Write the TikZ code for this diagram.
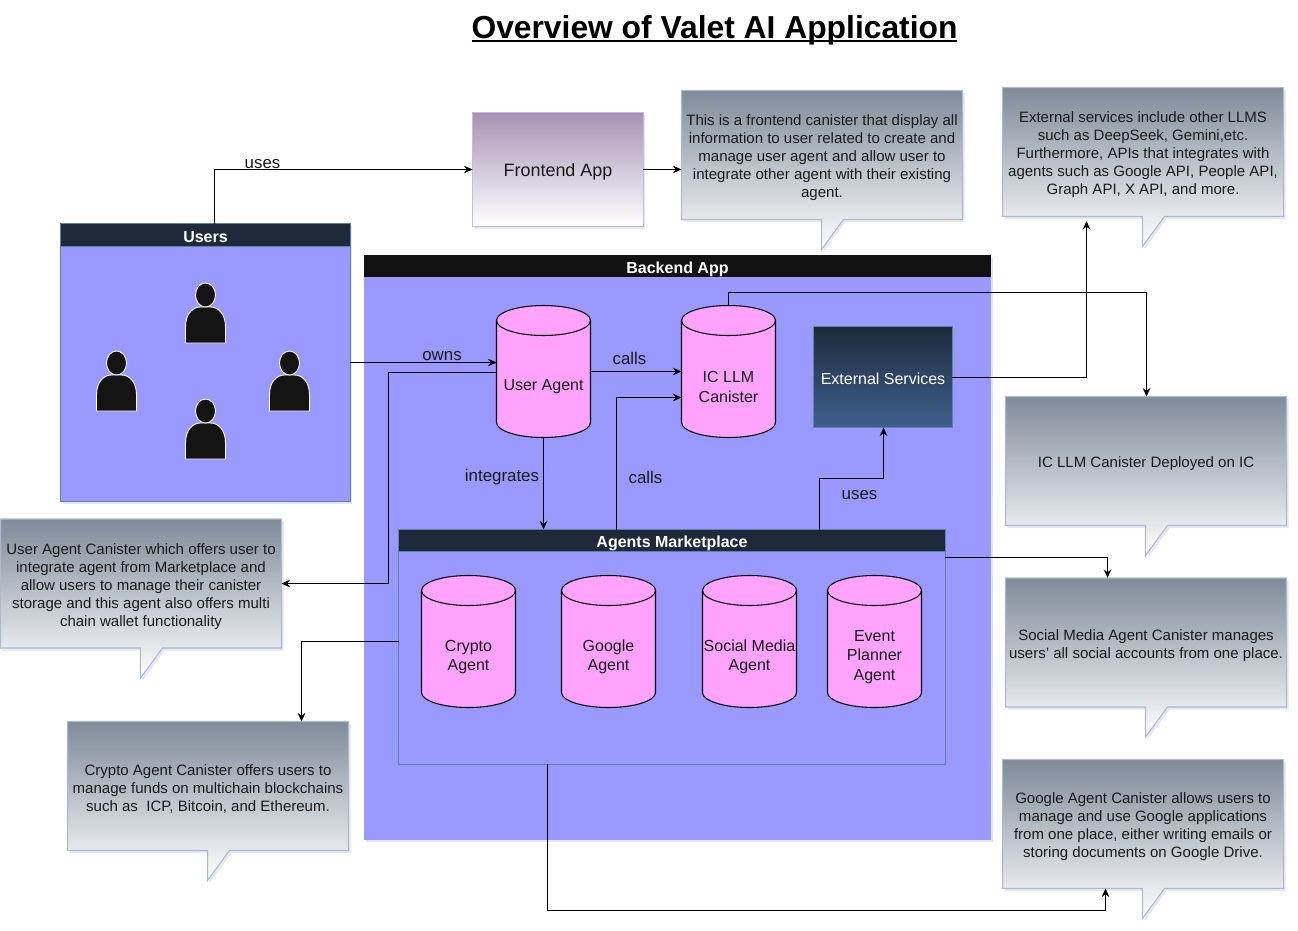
\documentclass[tikz,border=0pt]{standalone}
\usepackage{fontspec}
\setmainfont{Liberation Sans}
\usepackage{tikz}
\usepackage{xcolor}
\usetikzlibrary{arrows.meta, calc, positioning, shadows}

\definecolor{panelblue}{HTML}{9999FF}
\definecolor{headdark}{HTML}{1E2A3A}
\definecolor{canpink}{HTML}{FFA3FF}
\definecolor{notetop}{HTML}{7E8B99}
\definecolor{noteedge}{HTML}{AEBBCD}
\definecolor{paneledge}{HTML}{5F80AD}
\definecolor{inktext}{HTML}{1A1A1A}
\definecolor{fronttop}{HTML}{A593B5}
\definecolor{frontedge}{HTML}{C9B8E0}
\definecolor{extbottom}{HTML}{3F618F}

\tikzset{
  softshadow/.style={drop shadow={shadow xshift=0.04cm, shadow yshift=-0.05cm, opacity=0.13, fill=blue!60!gray}},
  flow/.style={-{Stealth[length=1.7mm, width=1.5mm]}, line width=0.6pt, black},
  panel/.style={draw=paneledge, line width=0.6pt, fill=panelblue, inner sep=0pt, outer sep=0pt},
  panelhead/.style={draw=paneledge, line width=0.6pt, fill=headdark, text=white, inner sep=0pt, outer sep=0pt, text height=8.3pt, text depth=0pt, font=\fontsize{9.1pt}{11pt}\selectfont\bfseries},
  canbody/.style={minimum width=1.88cm, minimum height=2.64cm, inner sep=0pt, outer sep=0pt},
  canline/.style={draw=black, line width=0.6pt},
  canlabel/.style={inner sep=0pt, yshift=-0.31cm, align=center, text=inktext, font=\fontsize{9.1pt}{11.2pt}\selectfont},
  edgelabel/.style={text=inktext, inner sep=0pt, font=\fontsize{9.6pt}{11pt}\selectfont},
  notetext/.style={minimum width=5.62cm, minimum height=2.58cm, inner sep=0pt, outer sep=0pt},
  notelabel/.style={inner sep=0pt, yshift=-0.06cm, align=center, text=inktext, font=\fontsize{8.55pt}{10.25pt}\selectfont},
  notefill/.style={top color=notetop, bottom color=white, draw=noteedge, line width=0.6pt, softshadow},
  pics/person/.style={code={
    \fill[fill=black!92, draw=white, line width=0.5pt] (-20,0) -- (-20,-16) .. controls (-20,-29) and (-13,-36) .. (-5,-36) -- (5,-36) .. controls (13,-36) and (20,-29) .. (20,-16) -- (20,0) -- cycle;
    \fill[fill=black!92, draw=white, line width=0.5pt] (0,-48) ellipse [x radius=10, y radius=12];
  }},
}

% tail points down from the box, text sits on the box
\newcommand{\notebox}[4]{%
  \shade[notefill] (#2,#3) -- ++(281,0) -- ++(0,129) -- ++(-119,0) -- ++(-22,30) -- ++(0,-30) -- ++(-140,0) -- cycle;
  \node[notetext, label={[notelabel]center:{#4}}] (#1) at ($(#2,#3)+(140.5,64.5)$) {};
}
% drum drawn round a plain node of the same size
\newcommand{\canbox}[4]{%
  \begin{scope}[shift={(#2,#3)}]
    \path[canline, fill=canpink] (-47,51) arc[start angle=180, end angle=0, x radius=47, y radius=15] -- (47,-51) arc[start angle=0, end angle=-180, x radius=47, y radius=15] -- cycle;
    \draw[canline] (-47,-51) arc[start angle=180, end angle=0, x radius=47, y radius=15];
  \end{scope}
  \node[canbody, label={[canlabel]center:{#4}}] (#1) at (#2,#3) {};
}
\newcommand{\ruledtitle}[1]{\setbox0=\hbox{#1}\rlap{\rule[-2.4pt]{\wd0}{1.4pt}}\box0}

\begin{document}
\begin{tikzpicture}[x=0.02cm, y=-0.02cm]
  \useasboundingbox (0,0) rectangle (1298,930);

  \node[inner sep=0pt, anchor=base, text=black, font=\fontsize{18.1pt}{22pt}\selectfont\bfseries] (title) at (714.5,38) {\ruledtitle{Overview of Valet AI Application}};

  % backend
  \node[fill=panelblue, minimum width=12.54cm, minimum height=11.7cm, inner sep=0pt, outer sep=0pt, softshadow] (backend) at (677.5,547.5) {};
  \node[panelhead, draw=none, fill=black!93, minimum width=12.54cm, minimum height=0.44cm] (backendhead) at (677.5,266) {Backend App};

  % users
  \node[panel, softshadow, minimum width=5.8cm, minimum height=5.56cm] (users) at (205.5,362.5) {};
  \node[panelhead, minimum width=5.8cm, minimum height=0.46cm] (usershead) at (205.5,235) {Users};
  \pic at (205.5,343) {person};
  \pic at (116.5,411) {person};
  \pic at (289.5,411) {person};
  \pic at (205.5,459) {person};

  % frontend
  \node[draw=frontedge, line width=0.6pt, top color=fronttop, bottom color=white, minimum width=3.42cm, minimum height=2.28cm, inner sep=0pt, outer sep=0pt, text=inktext, text height=7.8pt, text depth=0pt, font=\fontsize{10.2pt}{12pt}\selectfont, softshadow] (frontend) at (558,169.5) {Frontend App};

  % canisters
  \canbox{useragent}{543.5}{371.5}{User Agent}
  \canbox{iclm}{728.5}{371.5}{IC LLM~\\Canister}
  \node[draw=paneledge, line width=0.6pt, top color=headdark, bottom color=extbottom, minimum width=2.78cm, minimum height=2.02cm, inner sep=0pt, outer sep=0pt, text=white, text height=8.4pt, text depth=0pt, font=\fontsize{9.1pt}{11pt}\selectfont] (external) at (883,377) {External Services};

  % marketplace
  \node[panel, minimum width=10.94cm, minimum height=4.7cm] (market) at (672,647) {};
  \node[panelhead, minimum width=10.94cm, minimum height=0.44cm] (markethead) at (672,540.5) {Agents Marketplace};
  \canbox{crypto}{468.5}{641.5}{Crypto~\\Agent}
  \canbox{google}{608.5}{641.5}{Google\\Agent}
  \canbox{social}{749.5}{641.5}{Social Media\\Agent}
  \canbox{event}{874.5}{641.5}{Event\\Planner\\Agent}

  % notes
  \notebox{notefront}{681.5}{90.5}{This is a frontend canister that display all\\information to user related to create and\\manage user agent and allow user to\\integrate other agent with their existing\\agent.}
  \notebox{noteext}{1002.5}{87.5}{External services include other LLMS\\such as DeepSeek, Gemini,etc.\\Furthermore, APIs that integrates with\\agents such as Google API, People API,\\Graph API, X API, and more.}
  \notebox{noteiclm}{1005.5}{396.5}{IC LLM Canister Deployed on IC}
  \notebox{notesocial}{1005.5}{578}{Social Media Agent Canister manages\\users' all social accounts from one place.}
  \notebox{notegoogle}{1002.5}{759.5}{Google Agent Canister allows users to\\manage and use Google applications\\from one place, either writing emails or\\storing documents on Google Drive.}
  \notebox{noteuser}{0.5}{519}{User Agent Canister which offers user to\\integrate agent from Marketplace and\\allow users to manage their canister\\storage and this agent also offers multi\\chain wallet functionality}
  \notebox{notecrypto}{67.5}{721.5}{Crypto Agent Canister offers users to\\manage funds on multichain blockchains\\such as~ ICP, Bitcoin, and Ethereum.}

  % connector rows and columns
  \coordinate (usescol) at (214.5,0);
  \coordinate (frontrow) at (0,169.5);
  \coordinate (ownsrow) at (0,362.5);
  \coordinate (callsrow) at (0,371.5);
  \coordinate (backrow) at (0,372.5);
  \coordinate (callscol) at (616.5,397.5);
  \coordinate (usesout) at (819.5,478.5);
  \coordinate (usesin) at (883.5,0);
  \coordinate (intcol) at (543.5,0);
  \coordinate (extcol) at (1086.5,221);
  \coordinate (extrow) at (0,377.5);
  \coordinate (toprow) at (0,292.5);
  \coordinate (iclmcol) at (1146.5,0);
  \coordinate (backcol) at (388.5,583.5);
  \coordinate (socialcol) at (1107.5,557.5);
  \coordinate (cryptocol) at (301.5,641.5);
  \coordinate (googlecol) at (1105.5,910.5);
  \coordinate (marketcol) at (547.5,0);

  \draw[flow] (usershead.north -| usescol) |- (frontend.west |- frontrow);
  \draw[flow] (frontend.east |- frontrow) -- (notefront.west |- frontrow);
  \draw[flow] (users.east |- ownsrow) -- (useragent.west |- ownsrow);
  \draw[flow] (useragent.east |- callsrow) -- (iclm.west |- callsrow);
  \draw[flow] (useragent.south -| intcol) -- (markethead.north -| intcol);
  \draw[flow] (markethead.north -| callscol) |- (iclm.west |- callscol);
  \draw[flow] (markethead.north -| usesout) -- (usesout) -| (external.south -| usesin);
  \draw[flow] (external.east |- extrow) -| (extcol);
  \draw[flow] (iclm.north) |- (toprow -| iclmcol) -- (noteiclm.north -| iclmcol);
  \draw[flow] (useragent.west |- backrow) -- (backrow -| backcol) |- (noteuser.east |- backcol);
  \draw[flow] (markethead.east |- socialcol) -| (notesocial.north -| socialcol);
  \draw[flow] (market.west |- cryptocol) -| (notecrypto.north -| cryptocol);
  \draw[flow] (market.south -| marketcol) |- (googlecol) -- (notegoogle.south -| googlecol);

  % labels
  \node[edgelabel] (usestop) at (262.5,164) {uses};
  \node[edgelabel] (ownslabel) at (442,356) {owns};
  \node[edgelabel] (callsa) at (629.5,358) {calls};
  \node[edgelabel] (intlabel) at (502,477) {integrates};
  \node[edgelabel] (callsb) at (645.5,477) {calls};
  \node[edgelabel] (usesb) at (859.5,495) {uses};
\end{tikzpicture}
\end{document}
